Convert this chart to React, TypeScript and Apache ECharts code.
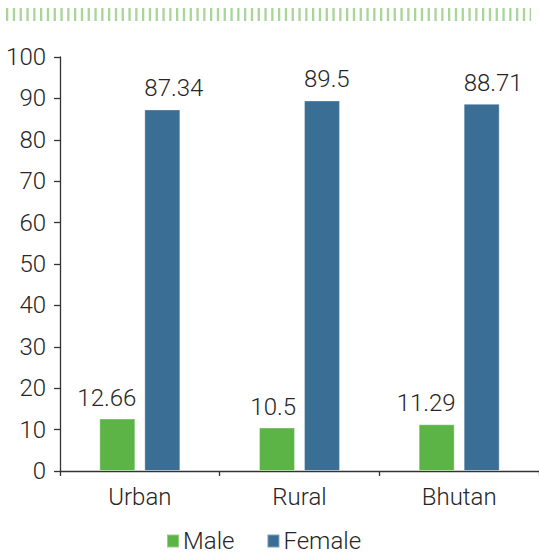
import React, { useEffect, useRef } from "react";
import * as echarts from "echarts";

const categories = ["Urban", "Rural", "Bhutan"];
const maleValues = [12.66, 10.5, 11.29];
const femaleValues = [87.34, 89.5, 88.71];
const seriesNames = ["Male", "Female"];

const FONT = "Roboto, 'Liberation Sans', sans-serif";
const TXT = "#262626";
const FS = 24;

export default function App() {
  const ref = useRef<HTMLDivElement>(null);
  useEffect(() => {
    if (!ref.current) return;
    const chart = echarts.init(ref.current, null, { renderer: "svg" });
    const labelStyle = {
      show: true,
      position: "top",
      distance: 9,
      color: TXT,
      fontSize: FS,
      fontFamily: FONT,
      fontWeight: 300,
    };
    chart.setOption({
      animation: false,
      textStyle: { fontFamily: FONT },
      graphic: [
        {
          type: "line",
          shape: { x1: 6, y1: 14.5, x2: 531, y2: 14.5 },
          style: { stroke: "#a8d598", lineWidth: 13, lineDash: [2.3, 4.5] },
        },
      ],
      legend: {
        bottom: -4,
        left: 161,
        itemWidth: 12,
        itemHeight: 13,
        itemGap: 32,
        icon: "rect",
        textStyle: { color: TXT, fontSize: FS, fontFamily: FONT, fontWeight: 300, padding: [0, 0, 0, -1] },
        data: seriesNames,
      },
      grid: { left: 60, right: 0, top: 57, bottom: 83, containLabel: false },
      xAxis: {
        type: "category",
        data: categories,
        axisLine: { lineStyle: { color: "#333", width: 1.3 } },
        axisTick: { show: true, length: 5, alignWithLabel: false, lineStyle: { color: "#333", width: 1.3 } },
        axisLabel: { color: TXT, fontSize: FS, fontFamily: FONT, fontWeight: 300, margin: 14 },
      },
      yAxis: {
        type: "value",
        min: 0,
        max: 100,
        interval: 10,
        splitLine: { show: false },
        axisLine: { show: true, lineStyle: { color: "#333", width: 1.3 } },
        axisTick: { show: true, length: 6, lineStyle: { color: "#333", width: 1.3 } },
        axisLabel: { color: TXT, fontSize: FS, fontFamily: FONT, fontWeight: 300, margin: 14 },
      },
      series: [
        {
          name: seriesNames[0],
          type: "bar",
          data: maleValues,
          barWidth: 36,
          barGap: "25%",
          itemStyle: { color: "#5cb447", borderColor: "rgba(255,255,255,0.35)", borderWidth: 1 },
          label: { ...labelStyle, align: "right", offset: [19, 0] },
        },
        {
          name: seriesNames[1],
          type: "bar",
          data: femaleValues,
          barWidth: 36,
          itemStyle: { color: "#3a6e95", borderColor: "rgba(255,255,255,0.35)", borderWidth: 1 },
          label: { ...labelStyle, align: "left", offset: [-18, 0] },
        },
      ],
    });
    return () => chart.dispose();
  }, []);
  return <div ref={ref} style={{ width: 539, height: 554, position: "absolute", left: 0, top: 0 }} />;
}
